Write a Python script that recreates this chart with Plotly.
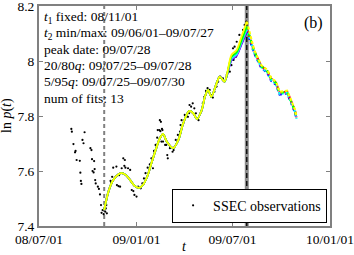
import plotly.graph_objects as go

# ---------------- data ----------------
obs_dates = [
    "2008-08-31", "2008-09-01", "2008-09-25", "2008-09-21", "2008-09-23", "2008-09-04",
    "2008-10-06", "2008-10-08", "2008-09-08", "2008-09-07", "2008-09-10", "2008-09-16",
    "2008-10-09", "2008-10-13", "2008-10-14", "2008-10-10", "2008-10-12", "2008-09-17",
    "2008-10-15", "2008-09-18", "2008-10-16", "2008-09-19", "2008-10-20", "2008-10-22",
    "2008-10-24", "2008-10-26", "2008-10-29", "2008-10-27", "2008-10-31", "2008-11-03",
    "2008-11-06", "2008-11-05", "2008-11-04",
    "2008-11-10", "2008-11-14", "2008-11-13", "2008-11-16", "2008-11-18", "2008-11-24",
    "2008-11-25", "2008-11-28", "2008-12-01", "2008-11-29", "2008-12-04", "2008-12-07",
    "2008-12-10", "2008-12-09", "2008-12-11", "2008-12-16", "2008-12-20", "2008-12-23",
    "2008-12-26", "2008-12-28", "2009-01-01", "2009-01-04", "2009-01-09", "2009-01-12",
    "2009-01-15", "2009-01-18", "2009-01-22", "2009-01-26", "2009-01-29", "2009-02-01",
    "2009-02-03", "2009-02-06", "2009-02-09", "2009-02-10", "2009-02-15", "2009-02-18",
    "2009-02-20", "2009-02-26", "2009-02-28", "2009-03-01", "2009-02-14", "2009-02-16",
    "2009-02-13", "2009-02-19", "2009-02-17", "2009-02-24",
    "2009-03-05", "2009-03-10", "2009-03-12", "2009-03-16", "2009-03-20", "2009-03-24",
    "2009-03-25", "2009-03-27", "2009-03-30", "2009-04-02", "2009-04-08", "2009-04-11",
    "2009-04-10", "2009-04-14", "2009-04-17", "2009-04-20", "2009-04-23", "2009-04-26",
    "2009-04-28", "2009-05-03", "2009-05-06", "2009-05-09", "2009-05-12", "2009-05-15",
    "2009-05-19", "2009-05-22", "2009-05-25", "2009-05-28", "2009-06-01", "2009-06-04",
    "2009-06-08", "2009-06-13", "2009-06-20", "2009-06-26", "2009-06-29", "2009-07-03",
    "2009-07-08", "2009-07-02", "2009-07-05", "2009-07-09", "2009-07-14", "2009-07-21",
    "2009-07-24", "2009-07-27",
]
obs_values = [
    7.753, 7.743, 7.741, 7.713, 7.701, 7.698,
    7.683, 7.676, 7.673, 7.668, 7.640, 7.637,
    7.643, 7.636, 7.607, 7.600, 7.595, 7.594,
    7.567, 7.564, 7.555, 7.553, 7.543, 7.535,
    7.515, 7.476, 7.458, 7.448, 7.443, 7.452,
    7.446, 7.476, 7.464,
    7.531, 7.559, 7.564, 7.579, 7.612, 7.616,
    7.549, 7.545, 7.543, 7.585, 7.610, 7.646,
    7.640, 7.619, 7.612, 7.610, 7.604, 7.531,
    7.527, 7.513, 7.507, 7.543, 7.537, 7.555,
    7.573, 7.592, 7.612, 7.624, 7.646, 7.610,
    7.673, 7.695, 7.721, 7.749, 7.745, 7.753,
    7.707, 7.695, 7.658, 7.646, 7.785, 7.779,
    7.749, 7.749, 7.707, 7.695,
    7.683, 7.670, 7.676, 7.713, 7.731, 7.743,
    7.767, 7.785, 7.773, 7.804, 7.797, 7.840,
    7.810, 7.834, 7.846, 7.828, 7.810, 7.792,
    7.785, 7.816, 7.846, 7.870, 7.891, 7.901,
    7.895, 7.876, 7.867, 7.888, 7.907, 7.925,
    7.943, 7.937, 7.949, 7.961, 7.985, 8.004,
    8.016, 8.046, 8.052, 8.070, 8.095, 8.113,
    8.131, 8.143,
]

# common part of the fitted curves
fit_head_dates = [
    "2008-11-01", "2008-11-09", "2008-11-18", "2008-11-28", "2008-12-04", "2008-12-12",
    "2008-12-20", "2008-12-29", "2009-01-06", "2009-01-13", "2009-01-21", "2009-01-29",
    "2009-02-06", "2009-02-14", "2009-02-20", "2009-02-27", "2009-03-11", "2009-03-21",
    "2009-03-30", "2009-04-10", "2009-04-18", "2009-04-25", "2009-05-04", "2009-05-10",
    "2009-05-16", "2009-05-22", "2009-06-01", "2009-06-07", "2009-06-16",
]
fit_head_values = [
    7.458, 7.525, 7.567, 7.588, 7.592, 7.585,
    7.567, 7.545, 7.539, 7.549, 7.579, 7.628,
    7.676, 7.719, 7.735, 7.707, 7.683, 7.713,
    7.773, 7.818, 7.810, 7.789, 7.822, 7.870,
    7.895, 7.870, 7.919, 7.943, 7.925,
]
# rise to the peak (per fit)
fit_rise_dates = ["2009-06-29", "2009-07-09", "2009-07-18", "2009-07-28"]
# descent after the peak (per fit, dashed)
fit_fall_dates = ["2009-07-28", "2009-08-11", "2009-08-24", "2009-09-05", "2009-09-12",
                  "2009-09-21", "2009-09-28", "2009-10-12", "2009-10-17", "2009-10-27",
                  "2009-10-30"]

fit_colors = ["#0000ff", "#ff00ff", "#ff0000", "#00ffff", "#00ff00", "#ffff00"]
fit_rise = [
    [8.002, 8.020, 8.060, 8.108],
    [8.005, 8.022, 8.064, 8.112],
    [8.010, 8.028, 8.070, 8.118],
    [8.008, 8.025, 8.068, 8.115],
    [8.015, 8.032, 8.075, 8.125],
    [8.022, 8.040, 8.088, 8.143],
]
fit_fall = [
    [8.108, 8.028, 7.976, 7.956, 7.928, 7.914, 7.878, 7.882, 7.860, 7.812, 7.788],
    [8.112, 8.032, 7.980, 7.960, 7.932, 7.918, 7.882, 7.886, 7.864, 7.816, 7.792],
    [8.118, 8.036, 7.983, 7.963, 7.936, 7.921, 7.885, 7.889, 7.867, 7.819, 7.795],
    [8.115, 8.030, 7.978, 7.958, 7.931, 7.916, 7.880, 7.884, 7.862, 7.815, 7.790],
    [8.125, 8.035, 7.982, 7.962, 7.935, 7.920, 7.884, 7.888, 7.866, 7.818, 7.793],
    [8.143, 8.040, 7.985, 7.967, 7.938, 7.925, 7.888, 7.892, 7.870, 7.822, 7.797],
]
fit_dashes = ["3px,3px", "2px,4px", "4px,2px", "2px,2px", "3px,4px", "3px,2px"]

t1_date = "2008-11-01"
peak_date = "2009-07-28"

x_tick_vals = ["2008-07-01", "2009-01-01", "2009-07-01", "2010-01-01"]
x_tick_text = ["08/07/01", "09/01/01", "09/07/01", "10/01/01"]
y_tick_vals = [7.4, 7.6, 7.8, 8.0, 8.2]
y_tick_text = ["7.4", "7.6", "7.8", "8", "8.2"]

info_lines = [
    "<i>t</i><sub>1</sub> fixed: 08/11/01",
    "<i>t</i><sub>2</sub> min/max: 09/06/01\u201309/07/27",
    "peak date: 09/07/28",
    "20/80<i>q</i>: 09/07/25\u201309/07/28",
    "5/95<i>q</i>: 09/07/25\u201309/07/30",
    "num of fits: 13",
]

# ---------------- figure ----------------
FONT = "Liberation Serif"
fig = go.Figure()

# vertical markers
fig.add_trace(go.Scatter(x=[t1_date, t1_date], y=[7.4, 8.2], mode="lines",
                         line=dict(color="#808080", width=2, dash="4px,3px"),
                         showlegend=False, hoverinfo="skip"))
fig.add_trace(go.Scatter(x=[peak_date, peak_date], y=[7.4, 8.2], mode="lines",
                         line=dict(color="#8c8c8c", width=4),
                         showlegend=False, hoverinfo="skip"))
fig.add_trace(go.Scatter(x=[peak_date, peak_date], y=[7.4, 8.2], mode="lines",
                         line=dict(color="black", width=1.3, dash="5px,3px"),
                         showlegend=False, hoverinfo="skip"))

# observations
fig.add_trace(go.Scatter(x=obs_dates, y=obs_values, mode="markers",
                         marker=dict(color="black", size=2.2),
                         name="SSEC observations", showlegend=True))

# fits: falling dashed parts first
for col, fall, dsh in zip(fit_colors, fit_fall, fit_dashes):
    fig.add_trace(go.Scatter(x=fit_fall_dates, y=fall, mode="lines",
                             line=dict(color=col, width=2.2, dash=dsh),
                             showlegend=False, hoverinfo="skip"))
# fits: solid rising parts
for col, rise in zip(fit_colors, fit_rise):
    fig.add_trace(go.Scatter(x=fit_head_dates + fit_rise_dates,
                             y=fit_head_values + rise, mode="lines",
                             line=dict(color=col, width=1.8, shape="spline", smoothing=0.8),
                             showlegend=False, hoverinfo="skip"))

# info text
for i, line in enumerate(info_lines):
    fig.add_annotation(xref="paper", yref="paper", x=0.0, y=1.0, xanchor="left", yanchor="top",
                       xshift=3, yshift=-1 - i * 16.3, text=line, showarrow=False,
                       font=dict(family=FONT, size=13.5, color="black"))
fig.add_annotation(xref="paper", yref="paper", x=1.0, y=1.0, xanchor="right", yanchor="top",
                   xshift=-5, yshift=-6, text="(b)", showarrow=False,
                   font=dict(family=FONT, size=16, color="black"))
# axis titles
fig.add_annotation(xref="paper", yref="paper", x=0.5, y=0.0, xanchor="center", yanchor="top",
                   yshift=-11, text="<i>t</i>", showarrow=False,
                   font=dict(family=FONT, size=14, color="black"))
fig.add_annotation(xref="paper", yref="paper", x=0.0, y=0.5, xanchor="right", yanchor="middle",
                   xshift=-22, text="ln <i>p</i>(<i>t</i>)", textangle=-90, showarrow=False,
                   font=dict(family=FONT, size=14, color="black"))

axis_common = dict(showline=True, linecolor="#808080", linewidth=2, mirror="ticks",
                   ticks="inside", ticklen=4, tickcolor="#808080", tickwidth=1,
                   showgrid=False, zeroline=False, automargin=False,
                   ticklabeloverflow="allow",
                   tickfont=dict(family=FONT, size=13.5, color="black"))

fig.update_layout(
    width=354, height=255,
    margin=dict(l=39, r=24, t=6, b=29),
    paper_bgcolor="white", plot_bgcolor="white",
    font=dict(family=FONT, size=13.5, color="black"),
    xaxis=dict(range=["2008-07-01", "2010-01-01"], tickvals=x_tick_vals, ticktext=x_tick_text,
               **axis_common),
    yaxis=dict(range=[7.4, 8.2], tickvals=y_tick_vals, ticktext=y_tick_text,
               **axis_common),
    legend=dict(x=0.99, y=0.015, xanchor="right", yanchor="bottom",
                bgcolor="white", bordercolor="black", borderwidth=1,
                font=dict(family=FONT, size=14), itemsizing="trace",
                tracegroupgap=0, itemwidth=30),
    showlegend=True,
)

fig.write_html("out.html", config={"displayModeBar": False},
               post_script="document.body.style.margin='0';document.body.style.padding='0';")
